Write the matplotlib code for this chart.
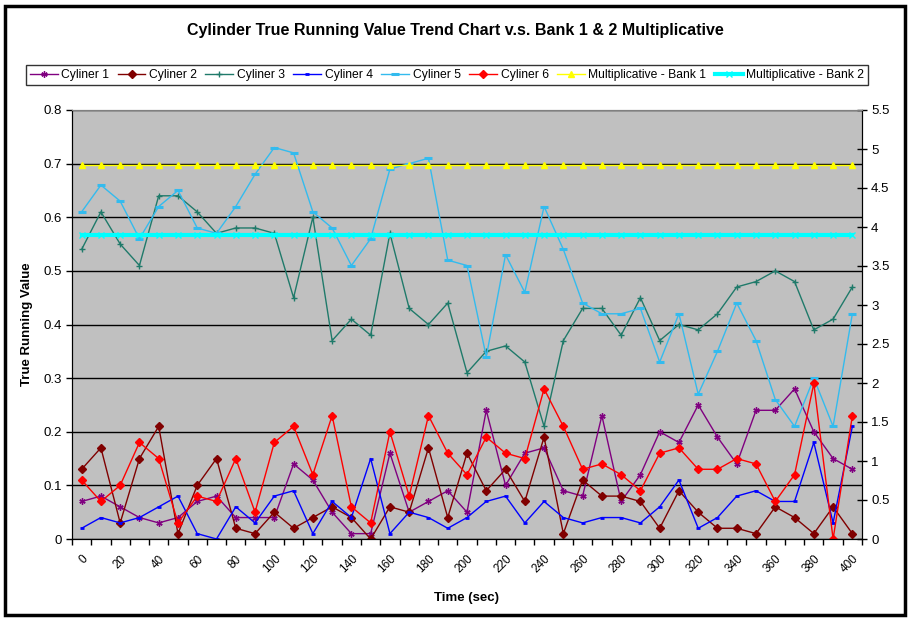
import matplotlib
matplotlib.use("Agg")
import matplotlib.pyplot as plt
from matplotlib.patches import Rectangle
import numpy as np

plt.rcParams['font.family'] = ['Liberation Sans', 'DejaVu Sans']

time_sec = [0, 10, 20, 30, 40, 50, 60, 70, 80, 90, 100, 110, 120, 130, 140, 150, 160, 170, 180, 190,
            200, 210, 220, 230, 240, 250, 260, 270, 280, 290, 300, 310, 320, 330, 340, 350, 360, 370,
            380, 390, 400]
tick_labels = ['0', '20', '40', '60', '80', '100', '120', '140', '160', '180', '200', '220', '240',
               '260', '280', '300', '320', '340', '360', '380', '400']

cyl1 = [0.07, 0.08, 0.06, 0.04, 0.03, 0.04, 0.07, 0.08, 0.04, 0.04, 0.04, 0.14, 0.11, 0.05, 0.01,
        0.01, 0.16, 0.05, 0.07, 0.09, 0.05, 0.24, 0.10, 0.16, 0.17, 0.09, 0.08, 0.23, 0.07, 0.12,
        0.20, 0.18, 0.25, 0.19, 0.14, 0.24, 0.24, 0.28, 0.20, 0.15, 0.13]
cyl2 = [0.13, 0.17, 0.03, 0.15, 0.21, 0.01, 0.10, 0.15, 0.02, 0.01, 0.05, 0.02, 0.04, 0.06, 0.04,
        0.00, 0.06, 0.05, 0.17, 0.04, 0.16, 0.09, 0.13, 0.07, 0.19, 0.01, 0.11, 0.08, 0.08, 0.07,
        0.02, 0.09, 0.05, 0.02, 0.02, 0.01, 0.06, 0.04, 0.01, 0.06, 0.01]
cyl3 = [0.54, 0.61, 0.55, 0.51, 0.64, 0.64, 0.61, 0.57, 0.58, 0.58, 0.57, 0.45, 0.60, 0.37, 0.41,
        0.38, 0.57, 0.43, 0.40, 0.44, 0.31, 0.35, 0.36, 0.33, 0.21, 0.37, 0.43, 0.43, 0.38, 0.45,
        0.37, 0.40, 0.39, 0.42, 0.47, 0.48, 0.50, 0.48, 0.39, 0.41, 0.47]
cyl4 = [0.02, 0.04, 0.03, 0.04, 0.06, 0.08, 0.01, 0.00, 0.06, 0.03, 0.08, 0.09, 0.01, 0.07, 0.04,
        0.15, 0.01, 0.05, 0.04, 0.02, 0.04, 0.07, 0.08, 0.03, 0.07, 0.04, 0.03, 0.04, 0.04, 0.03,
        0.06, 0.11, 0.02, 0.04, 0.08, 0.09, 0.07, 0.07, 0.18, 0.03, 0.21]
cyl5 = [0.61, 0.66, 0.63, 0.56, 0.62, 0.65, 0.58, 0.57, 0.62, 0.68, 0.73, 0.72, 0.61, 0.58, 0.51,
        0.56, 0.69, 0.70, 0.71, 0.52, 0.51, 0.34, 0.53, 0.46, 0.62, 0.54, 0.44, 0.42, 0.42, 0.43,
        0.33, 0.42, 0.27, 0.35, 0.44, 0.37, 0.26, 0.21, 0.30, 0.21, 0.42]
cyl6 = [0.11, 0.07, 0.10, 0.18, 0.15, 0.03, 0.08, 0.07, 0.15, 0.05, 0.18, 0.21, 0.12, 0.23, 0.06,
        0.03, 0.20, 0.08, 0.23, 0.16, 0.12, 0.19, 0.16, 0.15, 0.28, 0.21, 0.13, 0.14, 0.12, 0.09,
        0.16, 0.17, 0.13, 0.13, 0.15, 0.14, 0.07, 0.12, 0.29, 0.00, 0.23]
bank1 = [4.8, 4.8, 4.8, 4.8, 4.8, 4.8, 4.8, 4.8, 4.8, 4.8, 4.8, 4.8, 4.8, 4.8, 4.8, 4.8, 4.8, 4.8,
         4.8, 4.8, 4.8, 4.8, 4.8, 4.8, 4.8, 4.8, 4.8, 4.8, 4.8, 4.8, 4.8, 4.8, 4.8, 4.8, 4.8, 4.8,
         4.8, 4.8, 4.8, 4.8, 4.8]
bank2 = [3.9, 3.9, 3.9, 3.9, 3.9, 3.9, 3.9, 3.9, 3.9, 3.9, 3.9, 3.9, 3.9, 3.9, 3.9, 3.9, 3.9, 3.9,
         3.9, 3.9, 3.9, 3.9, 3.9, 3.9, 3.9, 3.9, 3.9, 3.9, 3.9, 3.9, 3.9, 3.9, 3.9, 3.9, 3.9, 3.9,
         3.9, 3.9, 3.9, 3.9, 3.9]

W, H = 911, 621
fig = plt.figure(figsize=(W / 100, H / 100), dpi=100)
fig.patch.set_facecolor('white')

# outer border
fig.add_artist(Rectangle((5 / W, 6 / H), 900 / W, 609 / H, transform=fig.transFigure,
                         fill=False, edgecolor='black', linewidth=2.5))

L, R, T, B = 72, 862, 110, 539
ax = fig.add_axes([L / W, 1 - B / H, (R - L) / W, (B - T) / H])
ax.set_facecolor('#C0C0C0')
ax2 = ax.twinx()

x = np.arange(len(time_sec))
l1, = ax.plot(x, cyl1, color='#800080', lw=1, marker=(6, 2, 0), ms=4.5, mew=1, label='Cyliner 1')
l2, = ax.plot(x, cyl2, color='#800000', lw=1, marker='D', ms=4, label='Cyliner 2')
l3, = ax.plot(x, cyl3, color='#1F7A6A', lw=1, marker='+', ms=5, mew=1, label='Cyliner 3')
l4, = ax.plot(x, cyl4, color='#0000FF', lw=1, marker='_', ms=3.5, mew=2, label='Cyliner 4')
l5, = ax.plot(x, cyl5, color='#33BBEE', lw=1, marker='_', ms=6, mew=2.2, label='Cyliner 5')
l6, = ax.plot(x, cyl6, color='#FF0000', lw=1, marker='D', ms=4.5, label='Cyliner 6')
l7, = ax2.plot(x, bank1, color='#FFFF00', lw=1, marker='^', ms=4.5, label='Multiplicative - Bank 1')
l8, = ax2.plot(x, bank2, color='#00FFFF', lw=3, marker='x', ms=4, mew=1, label='Multiplicative - Bank 2')

ax.set_xlim(-0.5, len(time_sec) - 0.5)
ax.set_ylim(0, 0.8)
ax2.set_ylim(0, 5.5)

yt = np.round(np.arange(0, 0.81, 0.1), 1)
ax.set_yticks(yt)
ax.set_yticklabels(['0'] + ['%.1f' % v for v in yt[1:]])
ax.yaxis.grid(True, color='black', lw=1)
ax.set_axisbelow(True)

yt2 = np.arange(0, 5.51, 0.5)
ax2.set_yticks(yt2)
ax2.set_yticklabels([('%g' % v) for v in yt2])

ax.set_xticks(np.arange(-0.5, len(time_sec), 1.0))
ax.set_xticklabels([])
ax.set_xticks(x[::2], minor=True)
ax.set_xticklabels(tick_labels, minor=True, rotation=45, ha='right', va='top',
                   rotation_mode='anchor')
ax.tick_params(axis='x', which='major', direction='out', length=4, width=1, color='black')
ax.tick_params(axis='x', which='minor', length=0, pad=10, labelsize=8.5)
ax.tick_params(axis='y', direction='out', length=4, width=1, labelsize=9.5, pad=3)
ax2.tick_params(axis='y', direction='inout', length=7, width=1, labelsize=9.5, pad=3)

for a in (ax, ax2):
    a.spines['top'].set_color('#808080')
    a.spines['left'].set_color('black')
    a.spines['right'].set_color('black')
    a.spines['bottom'].set_color('black')

ax.set_ylabel('True Running Value', fontsize=9.5, fontweight='bold', labelpad=8)
ax.set_xlabel('Time (sec)', fontsize=9.5, fontweight='bold', labelpad=12)

fig.text(455 / W, 1 - 31 / H, 'Cylinder True Running Value Trend Chart v.s. Bank 1 & 2 Multiplicative',
         ha='center', va='center', fontsize=11.5, fontweight='bold')

leg = fig.legend(handles=[l1, l2, l3, l4, l5, l6, l7, l8], loc='center',
                 bbox_to_anchor=(447 / W, 1 - 75 / H), ncol=8, fontsize=8.7,
                 frameon=True, fancybox=False, shadow=False, edgecolor='black',
                 handlelength=2.3, handletextpad=0.3, columnspacing=0.7,
                 borderpad=0.35, borderaxespad=0)
leg.get_frame().set_linewidth(1)

fig.savefig('out.png', dpi=100)
